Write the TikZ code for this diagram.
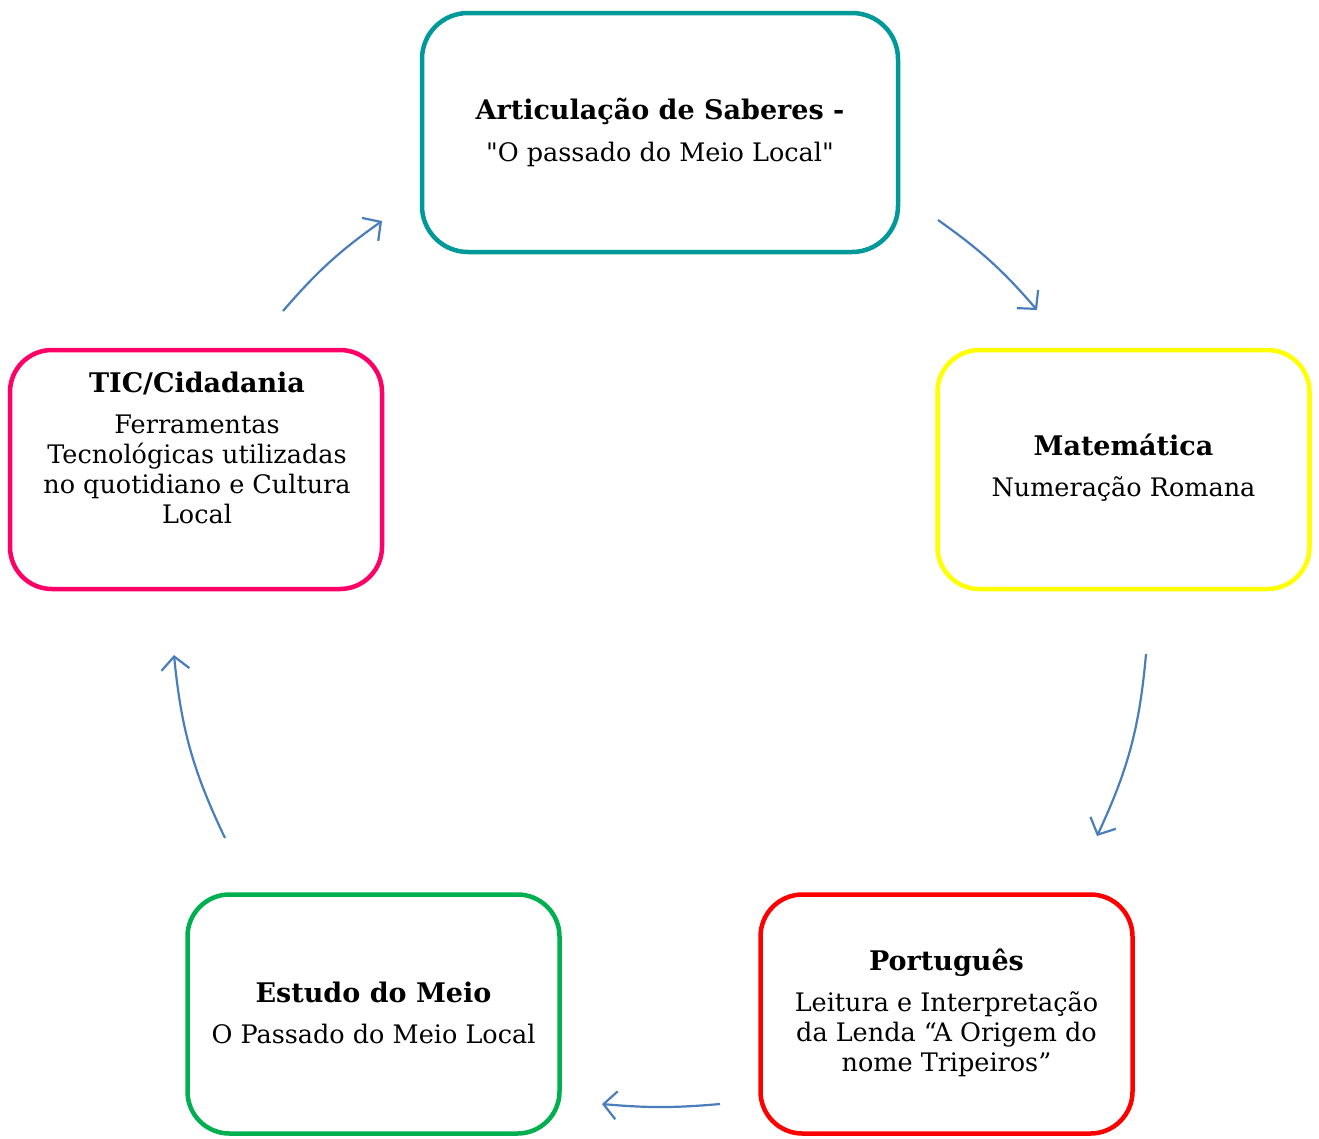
\documentclass[tikz,border=0pt]{standalone}
\usepackage{fontspec}
\setmainfont[Ligatures=TeXOff]{DejaVu Serif}
\usetikzlibrary{arrows.meta}
\definecolor{cTeal}{HTML}{009999}
\definecolor{cYellow}{HTML}{FFFF00}
\definecolor{cPink}{HTML}{FF0066}
\definecolor{cRed}{HTML}{FF0000}
\definecolor{cGreen}{HTML}{00B050}
\definecolor{cArrow}{HTML}{4A7EBB}
\newcommand{\hd}[1]{{\fontsize{27}{30}\selectfont\bfseries #1}}
\begin{document}
\begin{tikzpicture}[x=1pt,y=1pt,
  box/.style={draw, line width=4.5pt, rounded corners=42pt, minimum width=372pt, minimum height=239pt, inner sep=0pt, fill=white},
  txt/.style={align=center, font=\fontsize{25.5}{30}\selectfont, inner sep=0pt},
  arr/.style={draw=cArrow, line width=2.2pt, -{Straight Barb[length=13pt,width=28pt,line width=2.2pt]}}]
\useasboundingbox[fill=white] (0,0) rectangle (1319,-1138);
% boxes
\node[box, draw=cTeal, minimum width=476pt, rounded corners=46pt] (top) at (660,-132.5) {};
\node[box, draw=cYellow] (mat) at (1123.5,-469.5) {};
\node[box, draw=cPink] (tic) at (196,-469.5) {};
\node[box, draw=cRed] (por) at (946.5,-1014) {};
\node[box, draw=cGreen] (est) at (373.5,-1014) {};
% texts
\node[txt] (ttop) at (660,-132) {\hd{Articulação de Saberes -}\\[12pt]"O passado do Meio Local"};
\node[txt] (tmat) at (1123.5,-468) {\hd{Matemática}\\[11pt]Numeração Romana};
\node[txt] (ttic) at (197,-448) {\hd{TIC/Cidadania}\\[11pt]Ferramentas\\Tecnológicas utilizadas\\no quotidiano e Cultura\\Local};
\node[txt] (tpor) at (946.5,-1013) {\hd{Português}\\[11pt]Leitura e Interpretação\\da Lenda “A Origem do\\nome Tripeiros”};
\node[txt] (test) at (373.5,-1013) {\hd{Estudo do Meio}\\[11pt]O Passado do Meio Local};
% arrow end points
\coordinate (a1s) at (283,-311); \coordinate (a1e) at (382,-221);
\coordinate (a2s) at (938,-220); \coordinate (a2e) at (1037,-310);
\coordinate (a3s) at (1146,-654); \coordinate (a3e) at (1097,-836);
\coordinate (a4s) at (720,-1104); \coordinate (a4e) at (602,-1104);
\coordinate (a5s) at (225,-838); \coordinate (a5e) at (174,-655);
\draw[arr] (a1s) to[bend left=7] (a1e);
\draw[arr] (a2s) to[bend left=7] (a2e);
\draw[arr] (a3s) to[bend left=10] (a3e);
\draw[arr] (a4s) to[bend left=5] (a4e);
\draw[arr] (a5s) to[bend left=10] (a5e);
\end{tikzpicture}
\end{document}
